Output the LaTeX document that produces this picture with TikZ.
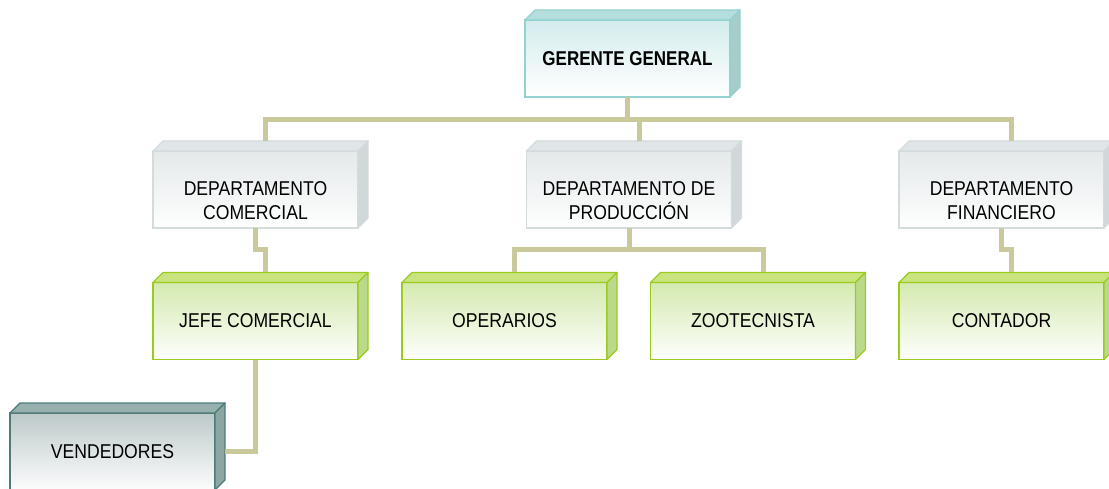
\documentclass[tikz,border=0pt]{standalone}
\usepackage{fontspec}
\setmainfont{Liberation Sans}[FakeStretch=0.88,BoldFeatures={FakeStretch=0.85}]
\definecolor{conncol}{HTML}{C9C99B}
% gerente
\definecolor{gBorder}{HTML}{93D2D0}
\definecolor{gFront}{HTML}{D3ECEC}
\definecolor{gTop}{HTML}{B3DEDD}
\definecolor{gSide}{HTML}{A7CDCB}
% departamentos
\definecolor{dBorder}{HTML}{D3DBDD}
\definecolor{dFront}{HTML}{E4E9EA}
\definecolor{dTop}{HTML}{E0E5E7}
\definecolor{dSide}{HTML}{D0D8DA}
% verdes
\definecolor{vBorder}{HTML}{9BCB1F}
\definecolor{vFront}{HTML}{D4EAB0}
\definecolor{vTop}{HTML}{C9E47F}
\definecolor{vSide}{HTML}{BBD98A}
% vendedores
\definecolor{tBorder}{HTML}{4D7B79}
\definecolor{tFront}{HTML}{BDC9C9}
\definecolor{tTop}{HTML}{97AFAD}
\definecolor{tSide}{HTML}{8CA6A4}
\newcommand\cubefaces[4]{%
  \filldraw[fill=#2,draw=#4,line width=1.3pt,line join=round]
    (#1.north west) -- ([shift={(10,-10)}]#1.north west) -- ([shift={(10,-10)}]#1.north east) -- (#1.north east) -- cycle;
  \filldraw[fill=#3,draw=#4,line width=1.3pt,line join=round]
    (#1.north east) -- ([shift={(10,-10)}]#1.north east) -- ([shift={(10,-10)}]#1.south east) -- (#1.south east) -- cycle;
}
\begin{document}
\begin{tikzpicture}[x=1pt,y=-1pt,
  front/.style={rectangle,minimum width=205pt,minimum height=77pt,inner sep=0pt,outer sep=0pt,
    align=center,font=\fontsize{20}{24}\selectfont},
  gerbox/.style={front,draw=gBorder,line width=1.3pt,top color=gFront,bottom color=white,font=\fontsize{20}{24}\selectfont\bfseries},
  depbox/.style={front,draw=dBorder,line width=1.3pt,top color=dFront,bottom color=white!97!dFront},
  grnbox/.style={front,draw=vBorder,line width=1.8pt,top color=vFront,bottom color=white!97!vFront},
  tealbox/.style={front,draw=tBorder,line width=1.8pt,top color=tFront,bottom color=white!96!tFront},
  lbl/.style={align=center,inner sep=0pt,font=\fontsize{20}{24}\selectfont},
  conn/.style={draw=conncol,line width=5pt,line join=miter}]
\useasboundingbox (0,0) rectangle (1109,489);
% front faces
\node[gerbox] (G) at (627.5,58.5) {GERENTE GENERAL};
\node[depbox] (DC) at (255.5,189.5) {};
\node[depbox] (DP) at (629,189.5) {};
\node[depbox] (DF) at (1001.5,189.5) {};
\node[grnbox] (JC) at (255.5,321) {JEFE COMERCIAL};
\node[grnbox] (OP) at (504.5,321) {OPERARIOS};
\node[grnbox] (ZO) at (753,321) {ZOOTECNISTA};
\node[grnbox] (CO) at (1001.5,321) {CONTADOR};
\node[tealbox] (VE) at (112.5,451.5) {VENDEDORES};
% 3D faces
\cubefaces{G}{gTop}{gSide}{gBorder}
\cubefaces{DC}{dTop}{dSide}{dBorder}
\cubefaces{DP}{dTop}{dSide}{dBorder}
\cubefaces{DF}{dTop}{dSide}{dBorder}
\cubefaces{JC}{vTop}{vSide}{vBorder}
\cubefaces{OP}{vTop}{vSide}{vBorder}
\cubefaces{ZO}{vTop}{vSide}{vBorder}
\cubefaces{CO}{vTop}{vSide}{vBorder}
\cubefaces{VE}{tTop}{tSide}{tBorder}
% department labels
\node[lbl] (DCt) at ([shift={(0,11.5)}]DC.center) {DEPARTAMENTO\\COMERCIAL};
\node[lbl] (DPt) at ([shift={(0,11.5)}]DP.center) {DEPARTAMENTO DE\\PRODUCCIÓN};
\node[lbl] (DFt) at ([shift={(0,11.5)}]DF.center) {DEPARTAMENTO\\FINANCIERO};
% connector helpers
\coordinate (bar) at (0,120);
\coordinate (jog) at (0,250);
\coordinate (dct) at ([shift={(10,-10)}]DC.north);
\coordinate (dpt) at ([shift={(10,-10)}]DP.north);
\coordinate (dft) at ([shift={(10,-10)}]DF.north);
\coordinate (jct) at ([shift={(10,-10)}]JC.north);
\coordinate (opt) at ([shift={(10,-10)}]OP.north);
\coordinate (zot) at ([shift={(10,-10)}]ZO.north);
\coordinate (cot) at ([shift={(10,-10)}]CO.north);
\coordinate (vet) at ([shift={(10,0)}]VE.east);
% connectors
\draw[conn] (G.south) -- (G.south |- bar);
\draw[conn] (dct) -- (dct |- bar) -- (dft |- bar) -- (dft);
\draw[conn] (dpt) -- (dpt |- bar);
\draw[conn] (DC.south) -- (DC.south |- jog) -- (jct |- jog) -- (jct);
\draw[conn] (DP.south) -- (DP.south |- jog);
\draw[conn] (opt) -- (opt |- jog) -- (zot |- jog) -- (zot);
\draw[conn] (DF.south) -- (DF.south |- jog) -- (cot |- jog) -- (cot);
\draw[conn] (JC.south) -- (JC.south |- vet) -- (vet);
\end{tikzpicture}
\end{document}
